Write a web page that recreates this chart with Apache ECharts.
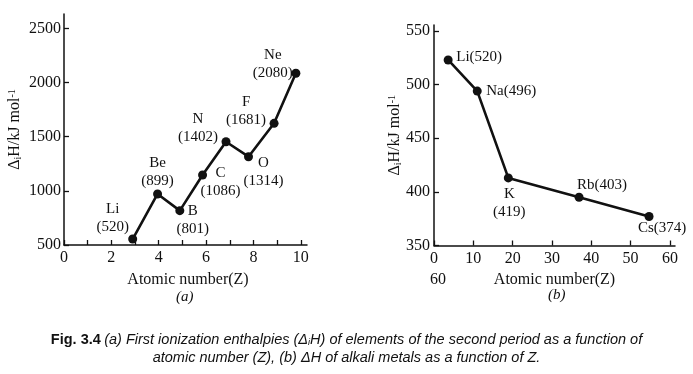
<!DOCTYPE html>
<html>
<head>
<meta charset="utf-8">
<script src="https://cdn.jsdelivr.net/npm/echarts@6/dist/echarts.min.js"></script>
<style>
html,body{margin:0;padding:0;background:#fff;}
#c{width:693px;height:374px;}
</style>
</head>
<body>
<div id="c"></div>
<script>
// ---- Data ----
// (a) second period
const aElem  = ['Li','Be','B','C','N','O','F','Ne'];
const aZ     = [2.9, 3.95, 4.89, 5.85, 6.84, 7.79, 8.87, 9.79];
const aH     = [555, 971, 817, 1146, 1453, 1315, 1623, 2085];
const aLabel = ['520','899','801','1086','1402','1314','1681','2080'];
const aXTicks = [0,1,2,3,4,5,6,7,8,9,10];
const aXLabels = [0,2,4,6,8,10];
const aYTicks = [500,1000,1500,2000,2500];

// (b) alkali metals
const bElem  = ['Li','Na','K','Rb','Cs'];
const bZ     = [3.6, 11, 18.9, 36.9, 54.7];
const bH     = [523, 494, 413, 395, 377];
const bLabel = ['520','496','419','403','374'];
const bXTicks = [0,10,20,30,40,50,60];
const bYTicks = [350,400,450,500,550];

// ---- label placement (style) ----
const aOff = [[-20,-21],[0,-22],[13,9],[18,7],[-28,-14],[15,15],[-28,-12],[-23,-9]];
const aTwoLine = true;
const bOff = [[31,-3],[34,0],[1,25],[23,-12],[13,12]];
const bTwoLine = [false,false,true,false,false];

const serif = '"Liberation Serif","DejaVu Serif",serif';
const sans = '"Liberation Sans",Arial,sans-serif';
const black = '#111';
const plain = v => String(v);

function axisStyle(){
  return {
    axisLine:{show:true,onZero:false,lineStyle:{color:black,width:1.5}},
    splitLine:{show:false},
    nameMoveOverlap:false
  };
}
function ticks(vals){
  return {show:true,inside:true,length:5,customValues:vals,lineStyle:{color:black,width:1.3}};
}
function labels(vals, margin){
  return {customValues:vals, formatter:plain, color:black, fontFamily:serif, fontSize:16, margin:margin};
}

const chart = echarts.init(document.getElementById('c'), null, {renderer:'canvas'});

function mkData(zs, hs, elems, labs, offs, two){
  return zs.map((z,i)=>({
    value:[z, hs[i]],
    label:{
      show:true,
      position:'inside',
      offset:offs[i],
      formatter: (Array.isArray(two)?two[i]:two) ? elems[i]+'\n('+labs[i]+')' : elems[i]+'('+labs[i]+')',
      color:black, fontFamily:serif, fontSize:15, lineHeight:18, align:'center', verticalAlign:'middle'
    }
  }));
}

const nameRich = {
  sub:{fontSize:10, fontFamily:serif, color:black, verticalAlign:'bottom', padding:[6,0,0,0]},
  sup:{fontSize:10, fontFamily:serif, color:black, verticalAlign:'top', padding:[0,0,6,0]}
};

chart.setOption({
  animation:false,
  backgroundColor:'#fff',
  grid:[
    {left:64, top:14, width:243, height:231},
    {left:434, top:25, width:241, height:220.5}
  ],
  xAxis:[
    Object.assign(axisStyle(),{
      type:'value', gridIndex:0, min:0, max:10.26,
      axisTick:ticks(aXTicks),
      axisLabel:labels(aXLabels,5),
      name:'Atomic number(Z)', nameLocation:'middle', nameGap:27,
      nameTextStyle:{color:black, fontFamily:serif, fontSize:16, padding:[0,0,0,5]}
    }),
    Object.assign(axisStyle(),{
      type:'value', gridIndex:1, min:0, max:61.3,
      axisTick:ticks(bXTicks),
      axisLabel:labels(bXTicks,5),
      name:'Atomic number(Z)', nameLocation:'middle', nameGap:26,
      nameTextStyle:{color:black, fontFamily:serif, fontSize:16}
    })
  ],
  yAxis:[
    Object.assign(axisStyle(),{
      type:'value', gridIndex:0, min:500, max:2632,
      axisTick:ticks(aYTicks),
      axisLabel:labels(aYTicks,3),
      name:'Δ{sub|i}H/kJ mol{sup|-1}', nameLocation:'middle', nameGap:41, nameRotate:90,
      nameTextStyle:{color:black, fontFamily:serif, fontSize:16, rich:nameRich}
    }),
    Object.assign(axisStyle(),{
      type:'value', gridIndex:1, min:350, max:555.6,
      axisTick:ticks(bYTicks),
      axisLabel:labels(bYTicks,4),
      name:'Δ{sub|i}H/kJ mol{sup|-1}', nameLocation:'middle', nameGap:31, nameRotate:90,
      nameTextStyle:{color:black, fontFamily:serif, fontSize:16, rich:nameRich}
    })
  ],
  series:[
    {
      type:'line', xAxisIndex:0, yAxisIndex:0,
      data: mkData(aZ,aH,aElem,aLabel,aOff,aTwoLine),
      symbol:'circle', symbolSize:9,
      lineStyle:{color:black,width:2.6},
      itemStyle:{color:black},
      z:5
    },
    {
      type:'line', xAxisIndex:1, yAxisIndex:1,
      data: mkData(bZ,bH,bElem,bLabel,bOff,bTwoLine),
      symbol:'circle', symbolSize:9,
      lineStyle:{color:black,width:2.6},
      itemStyle:{color:black},
      z:5
    }
  ],
  graphic:[
    {type:'text', left:176, top:290, style:{text:'(a)', font:'italic 15px '+serif, fill:black}},
    {type:'text', left:548, top:288, style:{text:'(b)', font:'italic 15px '+serif, fill:black}},
    {type:'text', left:430, top:272, style:{text:'60', font:'16px '+serif, fill:black}},
    {type:'text', left:'center', top:332, style:{
      text:'{b|Fig. 3.4} {i|(a) First ionization enthalpies (Δ}{s|i}{i|H) of elements of the second period as a function of}',
      rich:{
        b:{fontFamily:sans, fontWeight:'bold', fontSize:14.5, fill:black},
        i:{fontFamily:sans, fontStyle:'italic', fontSize:14.5, fill:black},
        s:{fontFamily:sans, fontStyle:'italic', fontSize:9, fill:black, padding:[5,0,0,0]}
      }
    }},
    {type:'text', left:'center', top:350, style:{
      text:'atomic number (Z), (b) ΔH of alkali metals as a function of Z.',
      font:'italic 14.5px '+sans, fill:black
    }}
  ]
});
</script>
</body>
</html>
